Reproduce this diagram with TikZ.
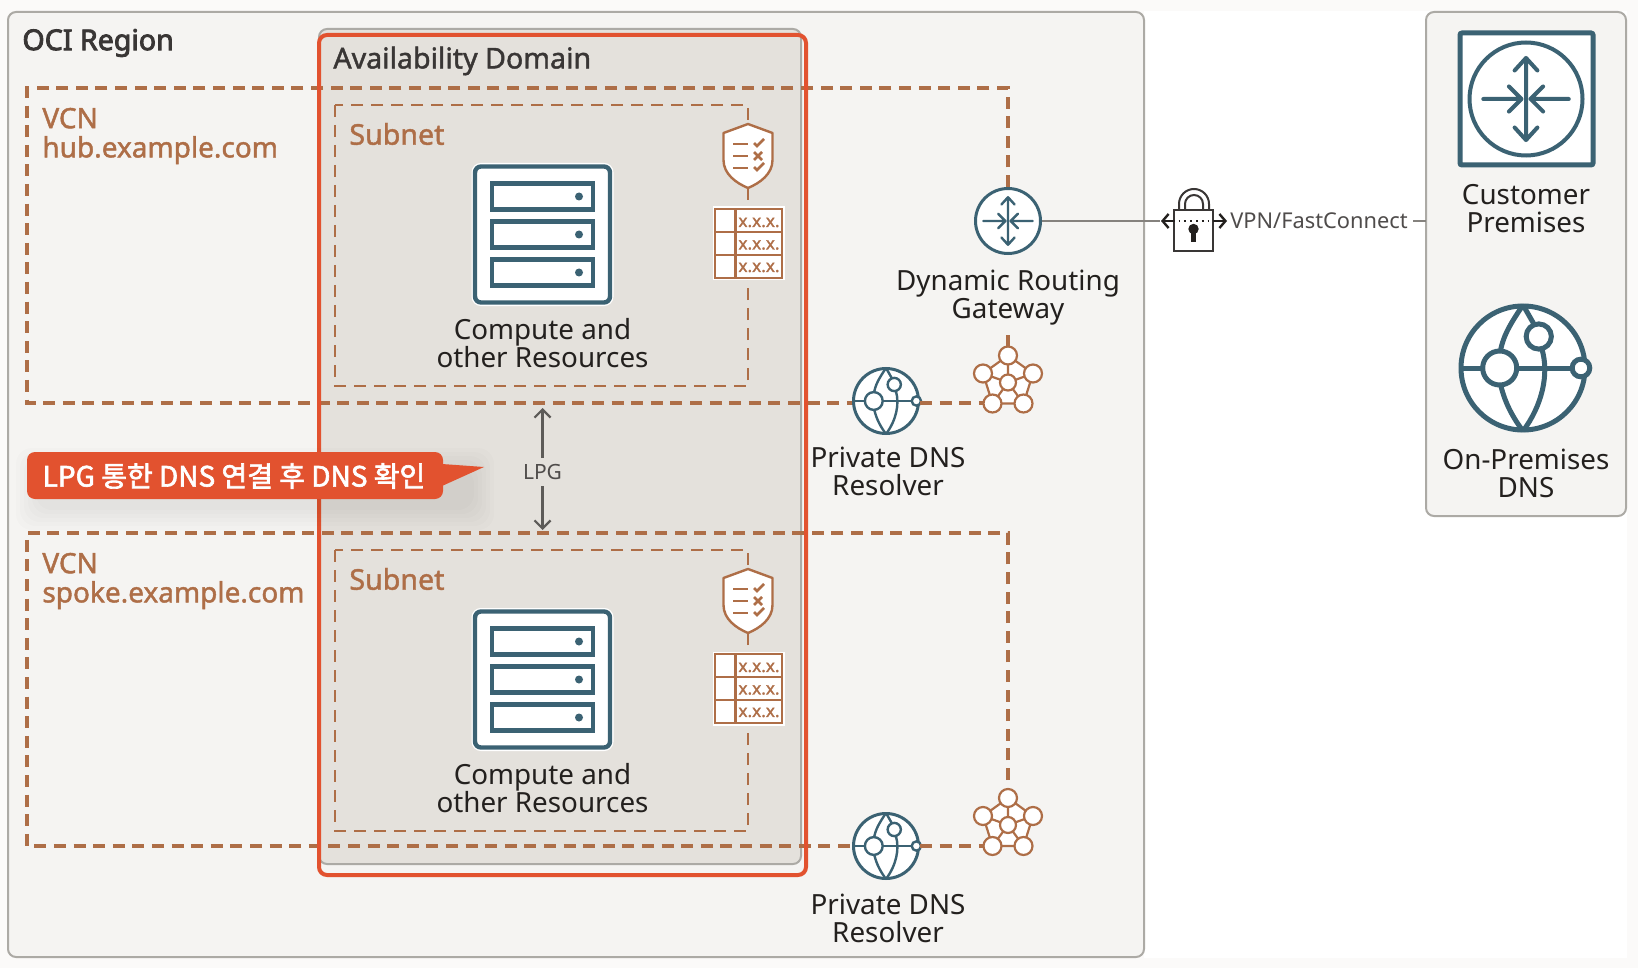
\documentclass[tikz,border=0pt]{standalone}
\usepackage{fontspec}
\setmainfont{Noto Sans}
\newfontfamily\krfont[FakeBold=2.2]{Noto Sans CJK KR}
\newfontfamily\headfont[FakeBold=3]{Noto Sans}
\newfontfamily\vcnfont[FakeBold=1.5]{Noto Sans}
\usepackage{xcolor}
\usetikzlibrary{arrows.meta}
\definecolor{teal}{HTML}{3B6273}
\definecolor{brown}{HTML}{AE6E47}
\definecolor{redbox}{HTML}{E2522F}
\definecolor{panel}{HTML}{F5F4F2}
\definecolor{domain}{HTML}{E4E1DC}
\definecolor{edge}{HTML}{ACAAA5}
\definecolor{ink}{HTML}{23201E}
\definecolor{wire}{HTML}{85827E}
\definecolor{page}{HTML}{FBFAF9}
\newcommand{\sz}[1]{\fontsize{#1}{#1}\selectfont}
\tikzset{
  panelbox/.style={draw=edge, fill=panel, line width=1pt, rounded corners=4pt},
  vcnline/.style={draw=brown, line width=1.7pt, dash pattern=on 6pt off 3.8pt},
  subnetline/.style={draw=brown, line width=.9pt, dash pattern=on 6pt off 4pt},
  wireline/.style={draw=wire, line width=1.3pt},
  title/.style={color=ink, font=\sz{13.9}, align=center, inner sep=0pt},
  vcntext/.style={color=brown, font=\sz{14}\vcnfont, align=left, anchor=west, inner sep=0pt},
  iconbase/.style={circle, draw=teal, fill=white, line width=1.5pt, inner sep=0pt},
  % Router arrows, 1 unit is the circle radius
  router/.pic={
    \draw[line cap=round, line join=round] (0,-.72)--(0,.72)
      (-.2,-.5)--(0,-.72)--(.2,-.5) (-.2,.5)--(0,.72)--(.2,.5)
      (-.75,0)--(-.08,0) (-.3,-.22)--(-.08,0)--(-.3,.22)
      (.75,0)--(.08,0) (.3,-.22)--(.08,0)--(.3,.22);
  },
  % Globe, 1 unit is the circle radius
  globe/.pic={
    \draw (-1,0)--(.92,0);
    \draw (0,-1) .. controls (-.2,-.7) and (-.33,-.5) .. (-.37,-.2)
      (-.37,.2) .. controls (-.3,.55) and (-.15,.8) .. (0,1)
      (0,-1)--(.2,-.65)
      (.3,-.3) .. controls (.42,.1) and (.3,.6) .. (0,1);
    \draw[fill=white] (-.37,0) circle (.27);
    \draw[fill=white] (.25,-.5) circle (.2);
    \draw[fill=white] (.92,0) circle (.14);
  },
  server/.pic={
    \draw[draw=white, line width=3.5pt, rounded corners=3pt] (-67.5,-68) rectangle (67.5,68);
    \draw[draw=teal, fill=white, line width=2.2pt, rounded corners=3pt] (-67.5,-68) rectangle (67.5,68);
    \foreach \r in {-38,0,38}{
      \draw[draw=teal, line width=2.2pt] (-50.5,\r-13) rectangle (50.5,\r+13);
      \fill[teal] (36.5,\r) circle (4);
    }
  },
  shield/.pic={
    \draw[draw=brown, fill=white, line width=1.2pt, line join=round] (0,-32)--(24.5,-23)--(24.5,4)
      .. controls (24.5,18) and (12,27) .. (0,32) .. controls (-12,27) and (-24.5,18) .. (-24.5,4)
      --(-24.5,-23)--cycle;
    \foreach \r in {-12,0,12}
      \draw[draw=brown, line width=1.3pt] (-15,\r)--(0,\r);
    \draw[draw=brown, line width=1.3pt] (6,-13)--(9,-10)--(16,-17) (6,-4)--(14,4) (14,-4)--(6,4) (6,11)--(9,14)--(16,7);
  },
  ipt/.pic={
    \fill[white] (-36,-37) rectangle (36,37);
    \draw[draw=brown, line width=1.2pt] (-33.5,-34.5) rectangle (33.5,34.5)
      (-13,-34.5)--(-13,34.5) (-33.5,-11.5)--(33.5,-11.5) (-33.5,11.5)--(33.5,11.5);
    \foreach \r in {-22.5,0,22.5}
      \node[color=brown, font=\sz{8.6}\vcnfont, inner sep=0pt] at (10.5,\r+1.5) {x.x.x.};
  },
  pentanet/.pic={
    \draw[draw=brown, fill=white, line width=1.1pt] (0,-27)--(25,-9)--(15.5,21)--(-15.5,21)--(-25,-9)--cycle;
    \draw[draw=brown, line width=1.1pt] (0,0)--(0,-27) (0,0)--(25,-9) (0,0)--(15.5,21) (0,0)--(-15.5,21) (0,0)--(-25,-9);
    \foreach \p in {(0,-27),(25,-9),(15.5,21),(-15.5,21),(-25,-9)}
      \draw[draw=brown, fill=white, line width=1.1pt] \p circle (9);
    \draw[draw=brown, fill=white, line width=1.1pt] (0,0) circle (8);
  },
}
\begin{document}
\begin{tikzpicture}[x=.5pt, y=-.5pt]
  \useasboundingbox (0,0) rectangle (1638,968);
  \fill[page] (0,0) rectangle (1638,968);
  \fill[white] (1144,11) rectangle (1627,958);

  % Panels
  \draw[panelbox] (8,12) rectangle (1144,957);
  \draw[panelbox] (1426,12) rectangle (1626,516);
  \draw[draw=edge, fill=domain, line width=1pt, rounded corners=4pt] (319,29) rectangle (801,864);

  \node[color=ink!90, font=\sz{14.3}\headfont, anchor=west, inner sep=0pt] (regiontext) at (22,43) {OCI Region};
  \node[color=ink!90, font=\sz{14.3}\vcnfont, anchor=west, inner sep=0pt] (domaintext) at (333,61) {Availability Domain};

  % Main nodes
  \node[iconbase, minimum size=32.5pt] (drg) at (1008,221) {};
  \pic[teal, scale=33, line width=1.2pt] at (drg) {router};
  \node[iconbase, minimum size=32.5pt] (dnshub) at (886,401) {};
  \pic[teal, scale=33, line width=1.2pt] at (dnshub) {globe};
  \node[iconbase, minimum size=32.5pt] (dnsspoke) at (886,846) {};
  \pic[teal, scale=33, line width=1.2pt] at (dnsspoke) {globe};
  \node[inner sep=0pt, minimum size=25pt] (pentahub) at (1008,382.5) {};
  \node[inner sep=0pt, minimum size=25pt] (pentaspoke) at (1008,825) {};

  % VCN outlines
  \coordinate (hubtr) at (1008,88);
  \coordinate (hubtl) at (27,88);
  \coordinate (hubbl) at (27,403);
  \coordinate (spoketr) at (1008,533);
  \coordinate (spoketl) at (27,533);
  \coordinate (spokebl) at (27,846);
  \draw[vcnline] (drg.north) -- (hubtr) -- (hubtl) -- (hubbl) -- (dnshub.west |- hubbl);
  \draw[vcnline] (dnshub.east |- hubbl) -- (pentahub.west |- hubbl);
  \draw[vcnline] (1008,335) -- (pentahub.north);
  \draw[vcnline] (pentaspoke.north) -- (spoketr) -- (spoketl) -- (spokebl) -- (dnsspoke.west |- spokebl);
  \draw[vcnline] (dnsspoke.east |- spokebl) -- (pentaspoke.west |- spokebl);

  % Subnets and what is in them
  \foreach \y/\n in {0/hub,445/spoke}{
    \draw[subnetline] (335,105+\y) rectangle (748,386+\y);
    \pic at (542.5,234.5+\y) {server};
    \pic at (748,156+\y) {shield};
    \pic at (748.5,243.5+\y) {ipt};
    \node[title] (compute\n) at (542.5,343+\y) {Compute and\\other Resources};
    \node[vcntext, font=\sz{14.3}\vcnfont] (subnet\n) at (349,134+\y) {Subnet};
  }
  \pic at (pentahub) {pentanet};
  \pic at (pentaspoke) {pentanet};

  \node[vcntext] (vcnhub) at (42,136) {VCN\\[.6pt]hub.example.com};
  \node[vcntext] (vcnspoke) at (42,581) {VCN\\[.6pt]spoke.example.com};

  \node[title] (drglabel) at (1008,297.5) {Dynamic Routing\\Gateway};
  \node[title] (dnshublabel) at (888,471) {Private DNS\\Resolver};
  \node[title] (dnsspokelabel) at (888,918) {Private DNS\\Resolver};

  % Right side
  \draw[draw=teal, fill=white, line width=2.5pt, rounded corners=1pt] (1460,33) rectangle (1593,165);
  \node[iconbase, line width=2pt, minimum size=56.5pt] (cpe) at (1526,99) {};
  \pic[teal, scale=57, line width=2pt] at (cpe) {router};
  \node[iconbase, line width=2.5pt, minimum size=62pt] (onprem) at (1523,368) {};
  \pic[teal, scale=63, line width=2.5pt] at (onprem) {globe};
  \node[title] (cpelabel) at (1526,208.5) {Customer\\Premises};
  \node[title] (onpremlabel) at (1526,473) {On-Premises\\DNS};

  % VPN line
  \draw[ink!90, line width=1pt] (1179,209) -- (1179,204) arc (180:360:15) -- (1209,209);
  \draw[ink!90, line width=1pt] (1185,209) -- (1185,204) arc (180:360:9) -- (1203,209);
  \node[draw=ink!90, fill=white, line width=1.2pt, minimum width=19.5pt, minimum height=20.5pt, inner sep=0pt] (lock) at (1193.5,230.5) {};
  \fill[ink] (1193.5,229) circle (5.2);
  \fill[ink] (1191,230) rectangle (1196,242);
  \coordinate (vpnw) at (lock.west |- 0,221);
  \coordinate (vpne) at (lock.east |- 0,221);
  \draw[ink, line width=.9pt, dotted] (vpnw) -- (vpne);
  \draw[ink, line width=1.2pt, -{Straight Barb[length=3pt,width=7pt]}] (vpnw) -- (1161,221);
  \draw[ink, line width=1.2pt, -{Straight Barb[length=3pt,width=7pt]}] (vpne) -- (1227,221);
  \node[color=ink!80, font=\sz{10.9}, inner sep=0pt] (vpntext) at (1319,221) {VPN/FastConnect};
  \draw[wireline] (drg.east) -- (1160,221);
  \draw[wireline] (vpntext.east) ++(5,0) -- (1426,221);

  % LPG
  \node[color=ink!80, font=\sz{10.5}, inner sep=0pt] (lpg) at (542.5,472) {LPG};
  \draw[draw=wire!70!black, line width=1.1pt, -{Straight Barb[length=4pt,width=8pt]}] (lpg.north) ++(0,-6) -- (542.5,408);
  \draw[draw=wire!70!black, line width=1.1pt, -{Straight Barb[length=4pt,width=8pt]}] (lpg.south) ++(0,6) -- (542.5,530);

  % Highlight
  \draw[draw=redbox, line width=2pt, rounded corners=4pt] (319,35) rectangle (806,875);
  \foreach \s in {24,20,16,12,8,4}
    \fill[black, opacity=.012, rounded corners=8pt] (40-\s,472-\s) rectangle (470+\s,506+\s);
  \fill[redbox, rounded corners=4pt] (27,452) rectangle (443,499);
  \fill[redbox] (442,464) -- (484,467) -- (442,486) -- cycle;
  \node[color=white, font=\sz{14}\krfont, inner sep=0pt] (note) at (234,476) {LPG 통한 DNS 연결 후 DNS 확인};
\end{tikzpicture}
\end{document}
